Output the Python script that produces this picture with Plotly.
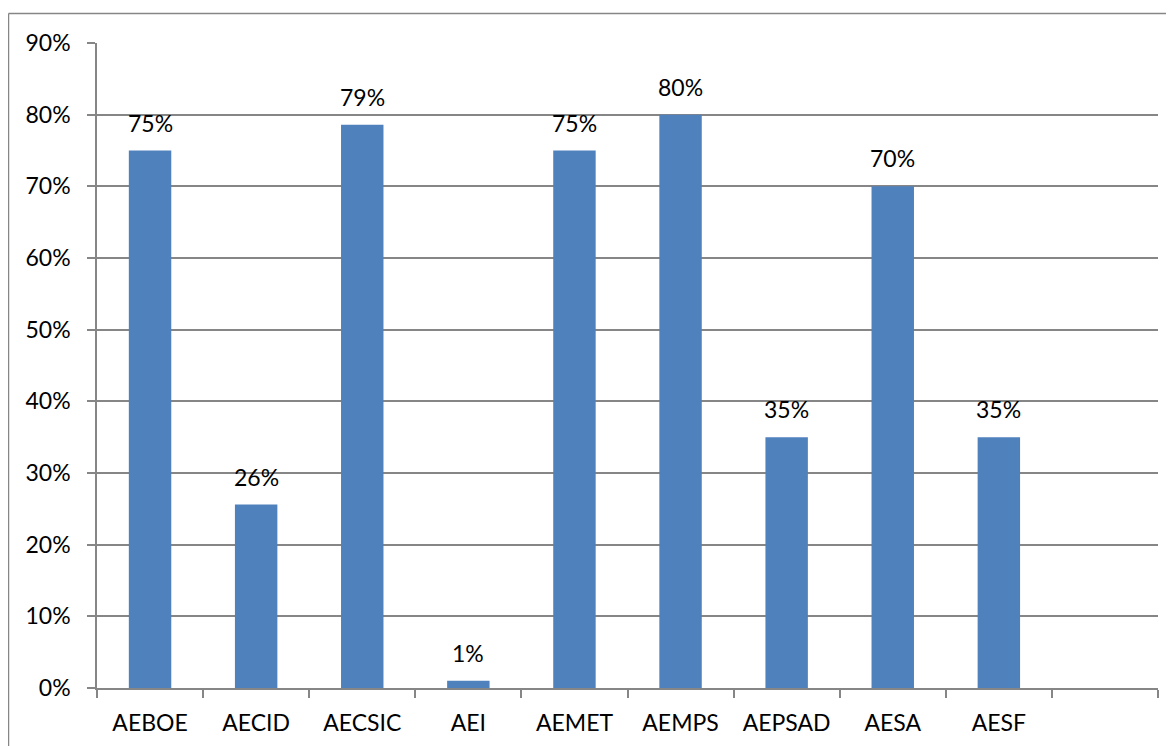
import plotly.graph_objects as go

categories = ["AEBOE", "AECID", "AECSIC", "AEI", "AEMET", "AEMPS", "AEPSAD", "AESA", "AESF", " "]
values = [0.75, 0.256, 0.786, 0.01, 0.75, 0.80, 0.35, 0.70, 0.35, None]
y_ticks = [0, 0.1, 0.2, 0.3, 0.4, 0.5, 0.6, 0.7, 0.8, 0.9]

# page body adds an 8px offset, so the figure is drawn 8px smaller
OFF = 8
W, H = 1174 - OFF, 746 - OFF
L, R, T, B = 97 - OFF, 16, 43 - OFF, 58
pw, ph = W - L - R, H - T - B

FONT = "Lato"
FS = 23

fig = go.Figure()
fig.add_trace(go.Bar(
    x=categories,
    y=values,
    marker=dict(color="#4F81BD", line=dict(width=0)),
    hoverinfo="skip",
))

annotations = []
for c, v in zip(categories, values):
    if v is None:
        continue
    annotations.append(dict(
        x=c, y=v, xref="x", yref="y",
        text=f"{round(v * 100):d}%",
        showarrow=False,
        yanchor="bottom",
        yshift=12,
        font=dict(family=FONT, size=FS, color="#000000"),
    ))

def px_x(p):
    return (p - OFF - L) / pw

def px_y(p):
    return (H - B - (p - OFF)) / ph

fig.update_layout(
    width=W, height=H,
    margin=dict(l=L, r=R, t=T, b=B, autoexpand=False),
    paper_bgcolor="white",
    plot_bgcolor="white",
    bargap=0.6,
    showlegend=False,
    font=dict(family=FONT, size=FS, color="#000000"),
    annotations=annotations,
    xaxis=dict(
        type="category",
        categoryorder="array",
        categoryarray=categories,
        range=[-0.5, 9.5],
        tickson="boundaries",
        ticks="outside",
        ticklen=8,
        tickwidth=1.5,
        tickcolor="#868686",
        showline=True,
        linecolor="#868686",
        linewidth=1.5,
        showgrid=False,
        tickfont=dict(family=FONT, size=FS, color="#000000"),
        ticklabelstandoff=14,
    ),
    yaxis=dict(
        range=[0, 0.9],
        tickvals=y_ticks,
        tickformat=".0%",
        ticks="outside",
        ticklen=8,
        tickwidth=1.5,
        tickcolor="#868686",
        showline=True,
        linecolor="#868686",
        linewidth=1.5,
        showgrid=True,
        gridcolor="#868686",
        gridwidth=1.5,
        zeroline=False,
        tickfont=dict(family=FONT, size=FS, color="#000000"),
        ticklabelstandoff=12,
    ),
    shapes=[
        dict(type="line", xref="paper", yref="paper",
             x0=px_x(8.5), x1=px_x(1190), y0=px_y(13.5), y1=px_y(13.5),
             line=dict(color="#868686", width=1.5)),
        dict(type="line", xref="paper", yref="paper",
             x0=px_x(8.5), x1=px_x(8.5), y0=px_y(13.5), y1=px_y(770),
             line=dict(color="#868686", width=1.5)),
    ],
)

fig.write_html("out.html")
